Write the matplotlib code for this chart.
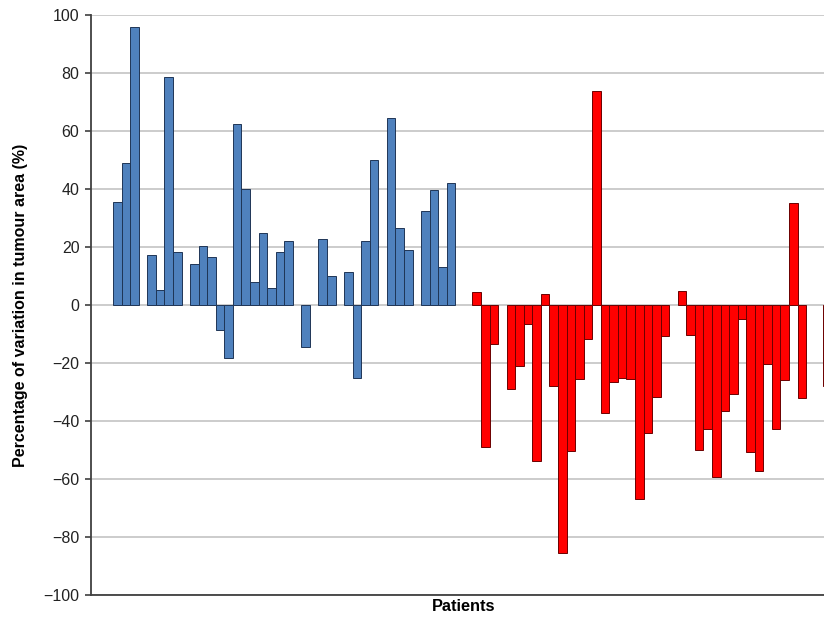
import numpy as np
import matplotlib
matplotlib.use("Agg")
import matplotlib.pyplot as plt

plt.rcParams['font.family'] = ['Liberation Sans', 'DejaVu Sans']

# tumour area change per patient, None = empty slot
blue_vals = [35.5, 49.0, 96.0, None, 17.3, 5.2, 78.6, 18.4, None, 14.2,
             20.5, 16.5, -8.5, -18.4, 62.3, 39.9, 8.1, 25.0, 5.9, 18.2,
             22.1, None, -14.6, None, 22.6, 10.0, None, 11.3, -25.2, 22.1,
             49.9, None, 64.6, 26.4, 18.9, None, 32.3, 39.7, 13.1, 41.9]
red_vals = [4.6, -48.9, -13.6, None, -28.9, -20.9, -6.6, -53.7, 3.8, -27.8,
            -85.6, -50.3, -25.4, -11.8, 73.8, -37.1, -26.4, -25.1, -25.5, -66.8,
            -44.3, -31.6, -10.6, None, 4.9, -10.3, -50.0, -42.6, -59.4, -36.4,
            -30.8, -4.8, -50.6, -57.2, -20.3, -42.8, -26.0, 35.3, -32.1, None,
            None, -28.0]
y_ticks = [-100, -80, -60, -40, -20, 0, 20, 40, 60, 80, 100]

#===============================================================================
def toArr(vals):
    return np.array([np.nan if v is None else v for v in vals], dtype=float)
#===============================================================================

fig = plt.figure(figsize=(8.24, 6.19), dpi=100)
# axes runs past the right edge (original chart was cropped)
ax = fig.add_axes([90.5 / 824, 24 / 619, (836 - 90.5) / 824, 580 / 619])

bx = np.arange(len(blue_vals))
rx = np.arange(len(red_vals)) + len(blue_vals) + 2

ax.bar(bx, toArr(blue_vals), width=1.0, color='#4f81bd',
       edgecolor='#1f3556', linewidth=0.7, zorder=3)
ax.bar(rx, toArr(red_vals), width=1.0, color='#ff0000',
       edgecolor='#6b0000', linewidth=0.7, zorder=3)

ax.set_ylim(-100, 100)
ax.set_xlim(-3.15, 84.0)
ax.set_yticks(y_ticks)
ax.set_yticklabels([str(t).replace('-', '\u2212') for t in y_ticks],
                   fontsize=11.5, color='#222222')
ax.set_xticks([])
ax.grid(axis='y', color='#c8c8c8', linewidth=1.3, zorder=0)
ax.set_axisbelow(True)

for s in ['top', 'right']:
    ax.spines[s].set_visible(False)
for s in ['left', 'bottom']:
    ax.spines[s].set_color('#404040')
    ax.spines[s].set_linewidth(1.3)
ax.tick_params(axis='y', length=4, width=1.2, color='#404040', pad=4)

ax.set_ylabel('Percentage of variation in tumour area (%)', fontsize=11.5,
              fontweight='bold', labelpad=11)
ax.set_xlabel('Patients', fontsize=11.8, fontweight='bold', labelpad=3)

fig.savefig('out.png', dpi=100)
